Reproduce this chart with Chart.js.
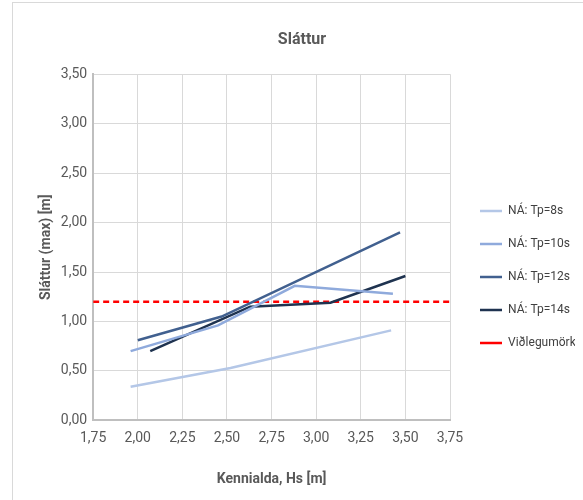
<!DOCTYPE html>
<html>
<head>
<meta charset="utf-8">
<script src="https://cdn.jsdelivr.net/npm/chart.js@4/dist/chart.umd.min.js"></script>
<style>
  html, body { margin: 0; padding: 0; background: #fff; overflow: hidden; width: 583px; height: 500px; }
  #frame { position: absolute; left: 12px; top: 2px; width: 700px; height: 700px; border: 1px solid #d9d9d9; }
  #wrap { position: absolute; left: 0; top: 0; width: 610px; height: 500px; }
</style>
</head>
<body>
<div id="frame"></div>
<div id="wrap"><canvas id="slatturChart" width="610" height="500"></canvas></div>
<script>
// Kennialda (Hs) og sláttur fyrir hvert Tp
const hs8 = [1.96, 2.52, 3.42];
const sl8 = [0.34, 0.53, 0.91];
const hs10 = [1.96, 2.45, 2.88, 3.43];
const sl10 = [0.70, 0.96, 1.36, 1.28];
const hs12 = [2.00, 2.47, 3.47];
const sl12 = [0.81, 1.05, 1.90];
const hs14 = [2.07, 2.63, 3.08, 3.50];
const sl14 = [0.70, 1.15, 1.19, 1.46];
const limitHs = [1.75, 3.75];
const limitSl = [1.20, 1.20];
const seriesLabels = ['NÁ: Tp=8s', 'NÁ: Tp=10s', 'NÁ: Tp=12s', 'NÁ: Tp=14s', 'Viðlegumörk'];

const pts = (xs, ys) => xs.map((x, i) => ({ x: x, y: ys[i] }));
const comma = v => v.toFixed(2).replace('.', ',');
const FONT = 'Roboto, sans-serif';

// nudge the legend a bit right/down like in the Excel original
const legendShift = {
  id: 'legendShift',
  afterLayout(chart) {
    const lg = chart.legend;
    lg.left += 9; lg.right += 9;
    lg.top += 18; lg.bottom += 18;
  }
};

const ctx = document.getElementById('slatturChart').getContext('2d');
new Chart(ctx, {
  type: 'scatter',
  data: {
    datasets: [
      { label: seriesLabels[0], data: pts(hs8, sl8), borderColor: '#b4c7e7' },
      { label: seriesLabels[1], data: pts(hs10, sl10), borderColor: '#8faadc' },
      { label: seriesLabels[2], data: pts(hs12, sl12), borderColor: '#41608f' },
      { label: seriesLabels[3], data: pts(hs14, sl14), borderColor: '#1f3350' },
      { label: seriesLabels[4], data: pts(limitHs, limitSl), borderColor: '#ff0000', borderDash: [6, 4] }
    ].map(d => Object.assign({ showLine: true, pointRadius: 0, borderWidth: 2.5, tension: 0, fill: false }, d))
  },
  options: {
    responsive: false,
    devicePixelRatio: 1,
    animation: false,
    layout: { padding: { left: 38, top: 30, right: 44, bottom: 12 } },
    plugins: {
      title: {
        display: true,
        text: 'Sláttur',
        color: '#595959',
        font: { family: FONT, size: 16, weight: 'bold' },
        padding: { top: 0, bottom: 25 }
      },
      legend: {
        position: 'right',
        align: 'center',
        maxWidth: 116,
        labels: {
          usePointStyle: true,
          pointStyle: 'line',
          pointStyleWidth: 22,
          padding: 21,
          color: '#404040',
          font: { family: FONT, size: 12 }
        }
      },
      tooltip: { enabled: false }
    },
    scales: {
      x: {
        type: 'linear',
        min: 1.75,
        max: 3.75,
        ticks: { stepSize: 0.25, color: '#595959', padding: 10, callback: v => comma(v),
          font: { family: FONT, size: 14 } },
        grid: { color: '#d9d9d9', drawTicks: false },
        border: { color: '#bfbfbf', width: 2 },
        title: { display: true, text: 'Kennialda, Hs [m]', color: '#595959', padding: { top: 14, bottom: 0 },
          font: { family: FONT, size: 14, weight: 'bold' } }
      },
      y: {
        min: 0,
        max: 3.5,
        ticks: { stepSize: 0.5, color: '#595959', padding: 6, callback: v => comma(v),
          font: { family: FONT, size: 14 } },
        grid: { color: '#d9d9d9', drawTicks: false },
        border: { color: '#bfbfbf', width: 2 },
        title: { display: true, text: 'Sláttur (max) [m]', color: '#595959', padding: { top: 0, bottom: 0 },
          font: { family: FONT, size: 14, weight: 'bold' } }
      }
    }
  },
  plugins: [legendShift]
});
</script>
</body>
</html>
